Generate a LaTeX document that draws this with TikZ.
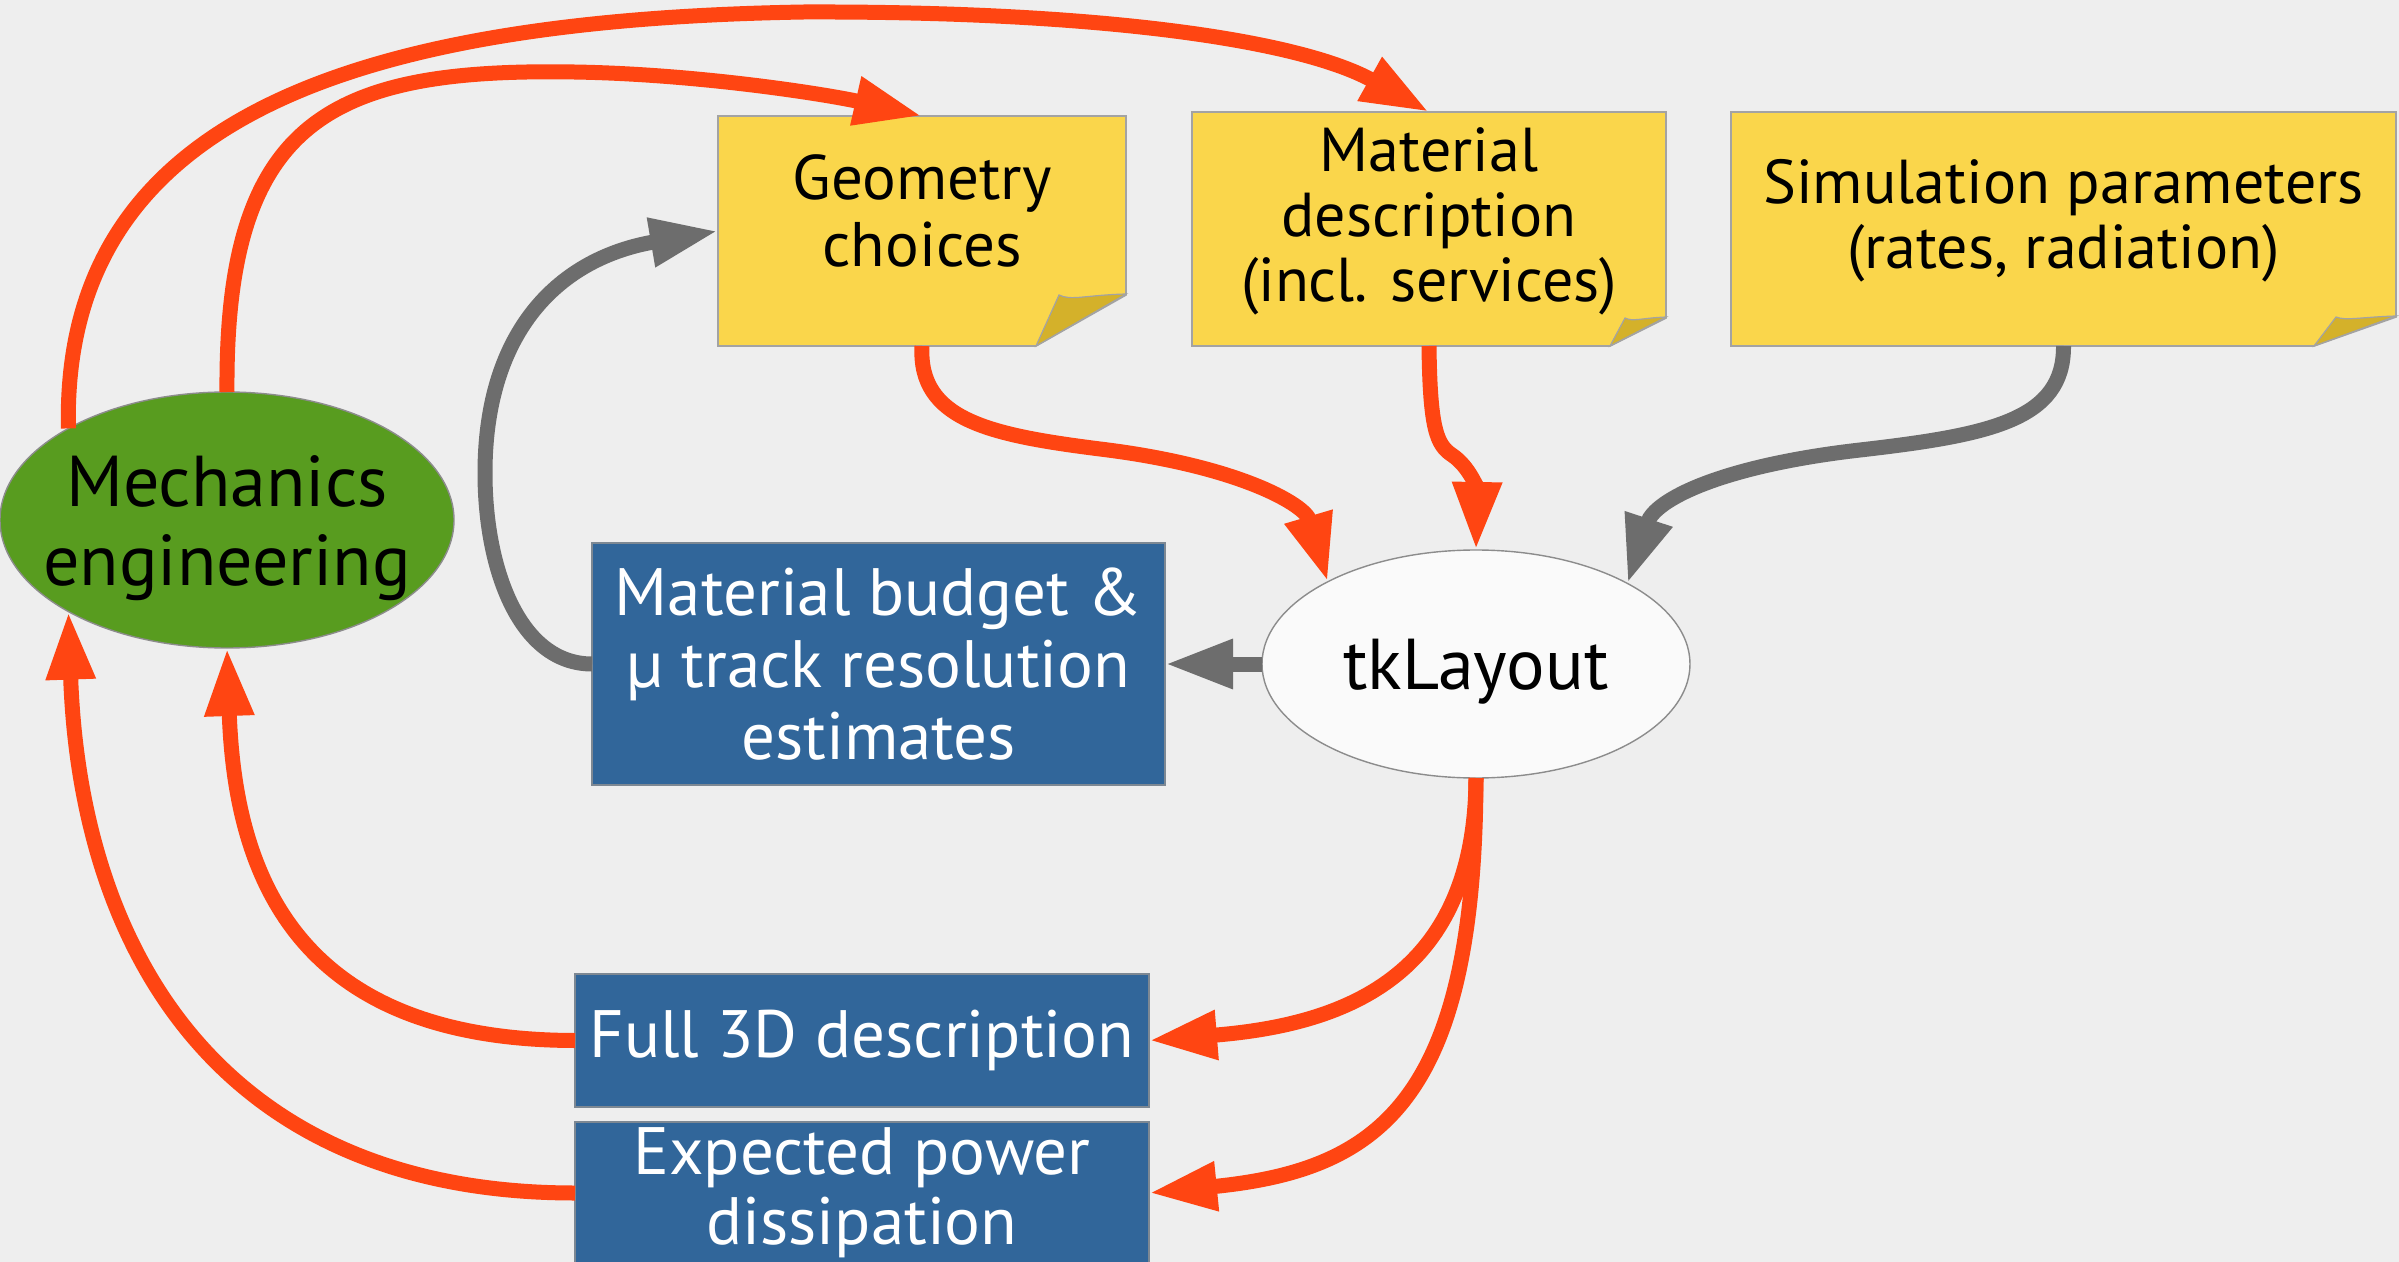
\documentclass[tikz,border=0pt]{standalone}
\usepackage{fontspec}
\setmainfont{PT Sans}
\usetikzlibrary{arrows.meta,shapes.geometric,calc}
\definecolor{bgc}{HTML}{EEEEEE}
\definecolor{notey}{HTML}{FAD64B}
\definecolor{notefold}{HTML}{D4B12A}
\definecolor{noteb}{HTML}{A3A3A3}
\definecolor{arrorange}{HTML}{FF4512}
\definecolor{arrgray}{HTML}{6D6D6D}
\definecolor{boxblue}{HTML}{31669A}
\definecolor{boxb}{HTML}{7D8893}
\definecolor{mechgreen}{HTML}{589C1F}
\definecolor{tkfill}{HTML}{FAFAFA}
\definecolor{tkb}{HTML}{8C8C8C}
\begin{document}
\begin{tikzpicture}[x=0.5pt,y=-0.5pt,
  frame/.style={rectangle,draw=none,fill=none,inner sep=0pt,outer sep=0pt},
  notetxt/.style={align=center,inner sep=0pt,text=black},
  notefill/.style={fill=notey,draw=noteb,line width=0.8pt},
  foldfill/.style={fill=notefold,draw=noteb,line width=0.6pt},
  bluebox/.style={rectangle,fill=boxblue,draw=boxb,line width=0.8pt,text=white,align=center,inner sep=0pt,outer sep=0pt,
    font=\fontsize{33.5}{36}\selectfont},
  oval/.style={ellipse,inner sep=0pt,outer sep=0pt,line width=0.7pt},
  conn/.style={line width=7.5pt,-{Triangle[length=34pt,width=23pt]}},
  oc/.style={conn,draw=arrorange},
  gc/.style={conn,draw=arrgray}]
\useasboundingbox (0,0) rectangle (2399,1262);
\fill[bgc] (0,0) rectangle (2399,1262);

% Geometry note
\node[frame,minimum width=204pt,minimum height=115pt] (geo) at (922,231) {};
\path[notefill] (geo.north west) -- (geo.north east) -- ($(geo.south east)+(0,-51)$)
  -- ($(geo.south east)+(-90,0)$) -- (geo.south west) -- cycle;
\path[foldfill] ($(geo.south east)+(-90,0)$) -- ($(geo.south east)+(-67,-51)$)
  .. controls ($(geo.south east)+(-55,-45)$) and ($(geo.south east)+(-40,-51)$) .. ($(geo.south east)+(0,-52)$) -- cycle;
\node[notetxt,font=\fontsize{31.5}{33.5}\selectfont] (geot) at (922,211) {Geometry\\choices};

% Material description note
\node[frame,minimum width=237pt,minimum height=117pt] (mat) at (1429,229) {};
\path[notefill] (mat.north west) -- (mat.north east) -- ($(mat.south east)+(0,-28)$)
  -- ($(mat.south east)+(-56,0)$) -- (mat.south west) -- cycle;
\path[foldfill] ($(mat.south east)+(-56,0)$) -- ($(mat.south east)+(-41,-28)$)
  .. controls ($(mat.south east)+(-33,-24)$) and ($(mat.south east)+(-25,-28)$) .. ($(mat.south east)+(0,-29)$) -- cycle;
\node[notetxt,font=\fontsize{31}{32.5}\selectfont] (matt) at (1429,221) {Material\\description\\(incl. services)};

% Simulation parameters note
\node[frame,minimum width=332.5pt,minimum height=117pt] (sim) at (2063.5,229) {};
\path[notefill] (sim.north west) -- (sim.north east) -- ($(sim.south east)+(0,-29)$)
  -- ($(sim.south east)+(-82,0)$) -- (sim.south west) -- cycle;
\path[foldfill] ($(sim.south east)+(-82,0)$) -- ($(sim.south east)+(-60,-29)$)
  .. controls ($(sim.south east)+(-50,-25)$) and ($(sim.south east)+(-35,-29)$) .. ($(sim.south east)+(0,-30)$) -- cycle;
\node[notetxt,font=\fontsize{31}{32.5}\selectfont] (simt) at (2063.5,221) {Simulation parameters\\(rates, radiation)};

% Mechanics engineering
\node[oval,fill=mechgreen,draw=tkb,minimum width=227pt,minimum height=128pt] (mech) at (227,520) {};
\node[notetxt,font=\fontsize{36}{39.5}\selectfont] (mecht) at (227,528) {Mechanics\\engineering};

% tkLayout
\node[oval,fill=tkfill,draw=tkb,minimum width=214pt,minimum height=114pt] (tk) at (1476,664) {};
\node[notetxt,font=\fontsize{36}{39}\selectfont] (tkt) at (1476,672) {tkLayout};

% Blue boxes
\node[bluebox,minimum width=286.5pt,minimum height=121pt] (mb) at (878.5,664) {Material budget \&\\µ track resolution\\estimates};
\node[bluebox,minimum width=287pt,minimum height=66.5pt] (f3d) at (862,1040.5) {Full 3D description};
\node[bluebox,minimum width=287pt,minimum height=71pt,font=\fontsize{33.5}{35}\selectfont] (pow) at (862,1193) {Expected power\\dissipation};

% Connectors
\draw[oc] (mech.150.6) .. controls (62,130) and (330,20) .. (804,12)
  .. controls (1100,11) and (1300,40) .. (mat.north);
\draw[oc] (mech.north) .. controls (225,120) and (330,68) .. (574,72)
  .. controls (700,74) and (830,95) .. (geo.north);
\draw[gc] (mb.west) .. controls (520,664) and (485,570) .. (485,473)
  .. controls (485,330) and (560,258) .. (geo.west);
\draw[oc] (geo.south) .. controls (918,420) and (990,435) .. (1100,449)
  .. controls (1240,466) and (1305,505) .. (tk.151.3);
\draw[oc] (mat.south) .. controls (1430,430) and (1437,445) .. (1452,455)
  .. controls (1470,467) and (1477,490) .. (tk.north);
\draw[gc] (sim.south) .. controls (2064,420) and (1990,435) .. (1860,450)
  .. controls (1720,466) and (1655,500) .. (tk.28.7);
\draw[gc] (tk.west) -- (mb.east);
\draw[oc] (tk.south) .. controls (1475,980) and (1340,1025) .. (f3d.east);
\draw[oc] (tk.south) .. controls (1475,1100) and (1380,1170) .. (pow.east);
\draw[oc] (f3d.west) .. controls (300,1040) and (235,880) .. (mech.south);
\draw[oc] (pow.west) .. controls (220,1193) and (80,950) .. (mech.210.2);
\end{tikzpicture}
\end{document}
